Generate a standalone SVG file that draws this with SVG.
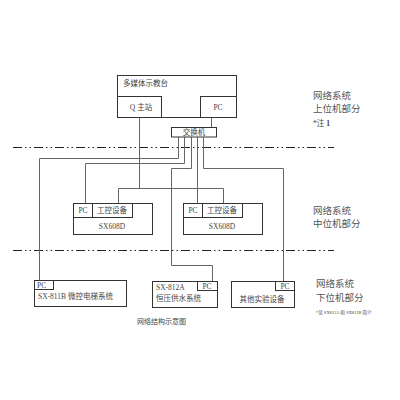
<svg xmlns="http://www.w3.org/2000/svg" width="400" height="400" viewBox="0 0 400 400">
<style>
.b{fill:#fff;stroke:#333;stroke-width:1}
.c{fill:none;stroke:#666;stroke-width:1}
.d{fill:none;stroke:#222;stroke-width:1;stroke-dasharray:9 3 1.5 3 1.5 3}
text{font-family:"Liberation Serif","Noto Sans CJK SC",serif;fill:#444}
.s{font-size:7.5px}
.m{text-anchor:middle}
.l{font-size:9.5px;fill:#555}
</style>
<rect width="400" height="400" fill="#fff"/>
<g id="dividers">
<line class="d" x1="13" y1="147.5" x2="334" y2="147.5"/>
<line class="d" x1="13" y1="250.5" x2="334" y2="250.5"/>
</g>
<g id="connectors">
<polyline class="c" points="211.5,117 211.5,127"/>
<polyline class="c" points="139.5,117 139.5,188.5"/>
<polyline class="c" points="118.5,203 118.5,188.5 223.5,188.5 223.5,203"/>
<polyline class="c" points="178.5,137 178.5,158.5 39.5,158.5 39.5,280"/>
<polyline class="c" points="184.5,137 184.5,163.5 85.5,163.5 85.5,203"/>
<polyline class="c" points="191.5,137 191.5,168.5 171.5,168.5 171.5,265.5 212.5,265.5 212.5,281"/>
<polyline class="c" points="197.5,137 197.5,203"/>
<polyline class="c" points="203.5,137 203.5,168.5 283.5,168.5 283.5,281"/>
</g>
<g id="console">
<rect class="b" x="117.5" y="75.5" width="119" height="42"/>
<rect class="b" x="117.5" y="96.5" width="44" height="21"/>
<rect class="b" x="200.5" y="96.5" width="36" height="21"/>
<text class="s" x="123" y="86">多媒体示教台</text>
<text class="s m" x="141" y="110">Q 主站</text>
<text class="s m" x="218" y="110">PC</text>
</g>
<g id="switch">
<rect class="b" x="171.5" y="127.5" width="45" height="9.5"/>
<text class="s m" x="194" y="135">交换机</text>
</g>
<g id="mid-left">
<rect class="b" x="73.5" y="203.5" width="79" height="31"/>
<rect class="b" x="73.5" y="203.5" width="19" height="14"/>
<rect class="b" x="92.5" y="203.5" width="40" height="14"/>
<text class="s m" x="83" y="213">PC</text>
<text class="s m" x="112" y="213">工控设备</text>
<text class="s m" x="112" y="229">SX608D</text>
</g>
<g id="mid-right">
<rect class="b" x="183.5" y="203.5" width="79" height="31"/>
<rect class="b" x="183.5" y="203.5" width="19" height="14"/>
<rect class="b" x="202.5" y="203.5" width="40" height="14"/>
<text class="s m" x="193" y="213">PC</text>
<text class="s m" x="222" y="213">工控设备</text>
<text class="s m" x="222" y="229">SX608D</text>
</g>
<g id="low-1">
<rect class="b" x="34.5" y="280.5" width="92" height="26"/>
<rect class="b" x="34.5" y="280.5" width="19" height="9"/>
<text class="s" x="37" y="288">PC</text>
<text class="s" x="38" y="299">SX-811B  微控电梯系统</text>
</g>
<g id="low-2">
<rect class="b" x="152.5" y="281.5" width="65" height="26"/>
<rect class="b" x="197.5" y="281.5" width="20" height="9"/>
<text class="s m" x="207" y="289">PC</text>
<text class="s" x="156" y="290">SX-812A</text>
<text class="s" x="156" y="301">恒压供水系统</text>
</g>
<g id="low-3">
<rect class="b" x="231.5" y="281.5" width="63" height="26"/>
<rect class="b" x="275.5" y="281.5" width="19" height="9"/>
<text class="s m" x="285" y="289">PC</text>
<text class="s m" x="262" y="302">其他实验设备</text>
</g>
<g id="labels">
<text class="l" x="313" y="99">网络系统</text>
<text class="l" x="313" y="112">上位机部分</text>
<text class="s" x="313" y="126">*注 <tspan font-weight="bold">1</tspan></text>
<text class="l" x="313" y="214">网络系统</text>
<text class="l" x="313" y="227">中位机部分</text>
<text class="l" x="316" y="287">网络系统</text>
<text class="l" x="316" y="301">下位机部分</text>
<text x="316" y="314" style="font-size:4.5px">*见 SX812A 和 SX811B 简介</text>
<text x="137" y="324" style="font-size:7px">网络结构示意图</text>
</g>
</svg>
